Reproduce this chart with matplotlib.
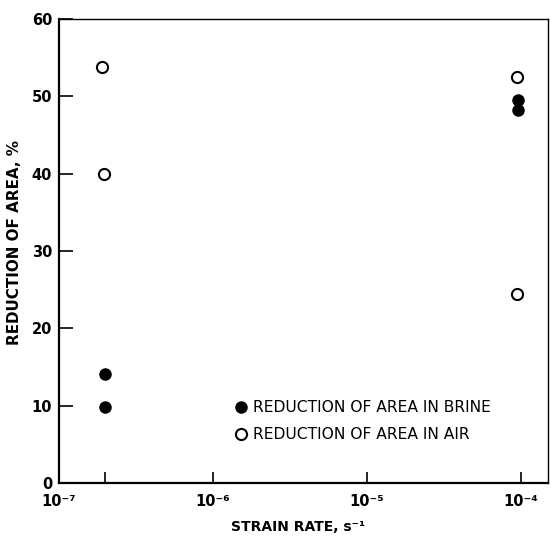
import matplotlib
matplotlib.use("Agg")
import matplotlib.pyplot as plt

plt.rcParams['font.family'] = ['DejaVu Sans']

# data
brine_x = [2.0e-7, 2.0e-7, 9.6e-5, 9.6e-5]
brine_y = [14.1, 9.8, 49.5, 48.2]
air_x = [1.9e-7, 1.95e-7, 9.5e-5, 9.5e-5]
air_y = [53.8, 40.0, 52.5, 24.4]

xtick_vals = [1e-7, 1e-6, 1e-5, 1e-4]
xtick_labels = ["10\u207b\u2077", "10\u207b\u2076", "10\u207b\u2075", "10\u207b\u2074"]
ytick_vals = [0, 10, 20, 30, 40, 50, 60]

fig = plt.figure(figsize=(5.51, 5.37), dpi=100)
ax = fig.add_axes([0.107, 0.1006, 0.8876, 0.864])

ax.plot(brine_x, brine_y, 'o', color='black', markersize=8, linestyle='none',
        label='REDUCTION OF AREA IN BRINE')
ax.plot(air_x, air_y, 'o', markerfacecolor='white', markeredgecolor='black',
        markeredgewidth=1.5, markersize=8, linestyle='none',
        label='REDUCTION OF AREA IN AIR')

ax.set_xscale('log')
ax.set_xlim(1e-7, 1.5e-4)
ax.set_ylim(0, 60)

ax.set_xticks(xtick_vals)
ax.set_xticklabels(xtick_labels, fontsize=10.5, fontweight='bold')
ax.set_xticks([2e-7], minor=True)
ax.tick_params(axis='x', which='minor', direction='in', length=8, width=1.2, labelbottom=False)
ax.tick_params(axis='x', which='major', direction='in', length=8, width=1.2, pad=8)
ax.set_yticks(ytick_vals)
ax.set_yticklabels([str(v) for v in ytick_vals], fontsize=10.5, fontweight='bold')
ax.tick_params(axis='y', direction='in', length=10, width=1.2, pad=5)

for s in ['left', 'bottom']:
    ax.spines[s].set_linewidth(1.6)
for s in ['top', 'right']:
    ax.spines[s].set_linewidth(1.0)

fig.text(298 / 551, 3 / 537, 'STRAIN RATE, s\u207b\u00b9', fontsize=10, fontweight='bold',
         ha='center', va='bottom')
fig.text(15 / 551, 1 - 242 / 537, 'REDUCTION OF AREA, %', fontsize=10.9, fontweight='bold',
         rotation=90, ha='center', va='center')

ax.legend(loc='upper left', bbox_to_anchor=(0.358, 0.178), frameon=False,
          fontsize=11.2, handlelength=0.9, handletextpad=0.3, labelspacing=0.75,
          borderaxespad=0, borderpad=0)

fig.savefig('out.png', dpi=100)
